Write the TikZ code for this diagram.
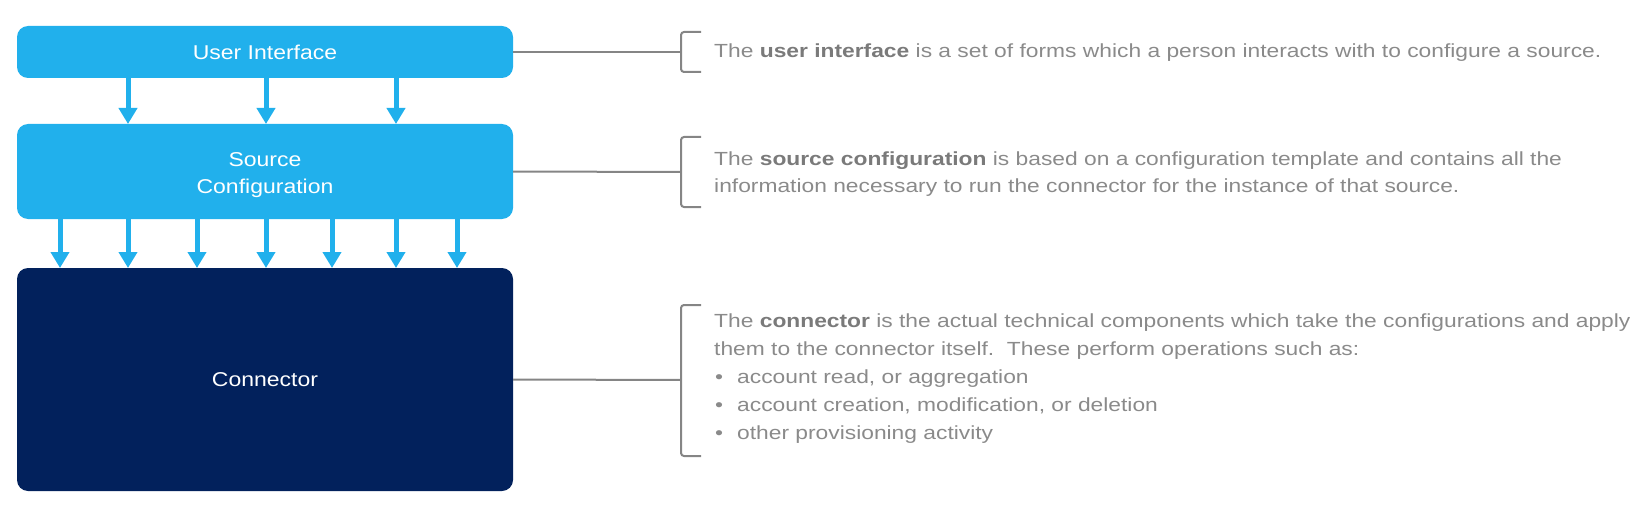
\documentclass[tikz,border=0pt]{standalone}
\usepackage{xcolor}
\usepackage{fontspec}
\setmainfont{Liberation Sans}
\newfontfamily\descfont{Liberation Sans}[FakeStretch=1.2]
\newfontfamily\boxfont{Liberation Sans}[FakeStretch=1.15]
\usetikzlibrary{arrows.meta}

\definecolor{skyblue}{HTML}{21B0EC}
\definecolor{navy}{HTML}{02215C}
\definecolor{leadgray}{HTML}{858585}
\definecolor{descgray}{HTML}{8A8A8A}
\definecolor{boldgray}{HTML}{7A7A7A}

\tikzset{
    layerbox/.style={rounded corners=11pt, minimum width=496pt, inner sep=0pt,
        outer sep=0pt, text=white, align=center,
        font=\boxfont\fontsize{20}{27}\selectfont},
    boxlabel/.style={text=white, align=center, inner sep=0pt,
        font=\boxfont\fontsize{20}{27}\selectfont},
    flowarrow/.style={skyblue, line width=5pt,
        -{Triangle[width=18pt, length=16pt]}},
    leader/.style={leadgray, line width=2pt},
    bracket/.style={leadgray, line width=2pt, rounded corners=3pt},
    desc/.style={anchor=base west, inner sep=0pt, align=left, text=descgray,
        font=\descfont\fontsize{19}{27}\selectfont}
}
\newcommand{\keyword}[1]{\textcolor{boldgray}{\textbf{#1}}}

\begin{document}
\begin{tikzpicture}[x=1pt, y=-1pt]
    \useasboundingbox (0,0) rectangle (1646,508);

    \node[layerbox, fill=skyblue, minimum height=52pt] (ui) at (265,52) {User Interface};
    \node[layerbox, fill=skyblue, minimum height=95pt,
        label={[boxlabel, yshift=-4pt]center:Source\\Configuration}] (sc) at (265,171.5) {};
    \node[layerbox, fill=navy, minimum height=223pt] (conn) at (265,379.5) {Connector};

    \foreach \dx in {111,249,379}
        \draw[flowarrow] ([xshift=\dx pt]ui.south west) -- ([xshift=\dx pt]sc.north west);
    \foreach \dx in {43,111,180,249,315,379,440}
        \draw[flowarrow] ([xshift=\dx pt]sc.south west) -- ([xshift=\dx pt]conn.north west);

    % brackets on the right
    \coordinate (uibr) at (681,52);
    \coordinate (scbr) at (681,172);
    \coordinate (connbr) at (681,380);
    \draw[bracket] (701,32) -- (681,32) -- (681,72) -- (701,72);
    \draw[bracket] (701,137) -- (681,137) -- (681,207) -- (701,207);
    \draw[bracket] (701,305) -- (681,305) -- (681,456) -- (701,456);
    \draw[leader] (ui.east) -- (uibr);
    \draw[leader] (sc.east) -- (scbr);
    \draw[leader] (conn.east) -- (connbr);

    % base anchor of a multi-line node is its last line
    \node[desc] (uitext) at (714,58) {The \keyword{user interface} is a set of forms which a person interacts with to configure a source.};
    \node[desc] (sctext) at (714,192) {The \keyword{source configuration} is based on a configuration template and contains all the\\
        information necessary to run the connector for the instance of that source.};
    \node[desc, font=\descfont\fontsize{19}{28}\selectfont] (conntext) at (714,439) {The \keyword{connector} is the actual technical components which take the configurations and apply\\
        them to the connector itself.\ \ These perform operations such as:\\
        \hspace*{1pt}\textbullet\hspace{14pt}account read, or aggregation\\
        \hspace*{1pt}\textbullet\hspace{14pt}account creation, modification, or deletion\\
        \hspace*{1pt}\textbullet\hspace{14pt}other provisioning activity};
\end{tikzpicture}
\end{document}
